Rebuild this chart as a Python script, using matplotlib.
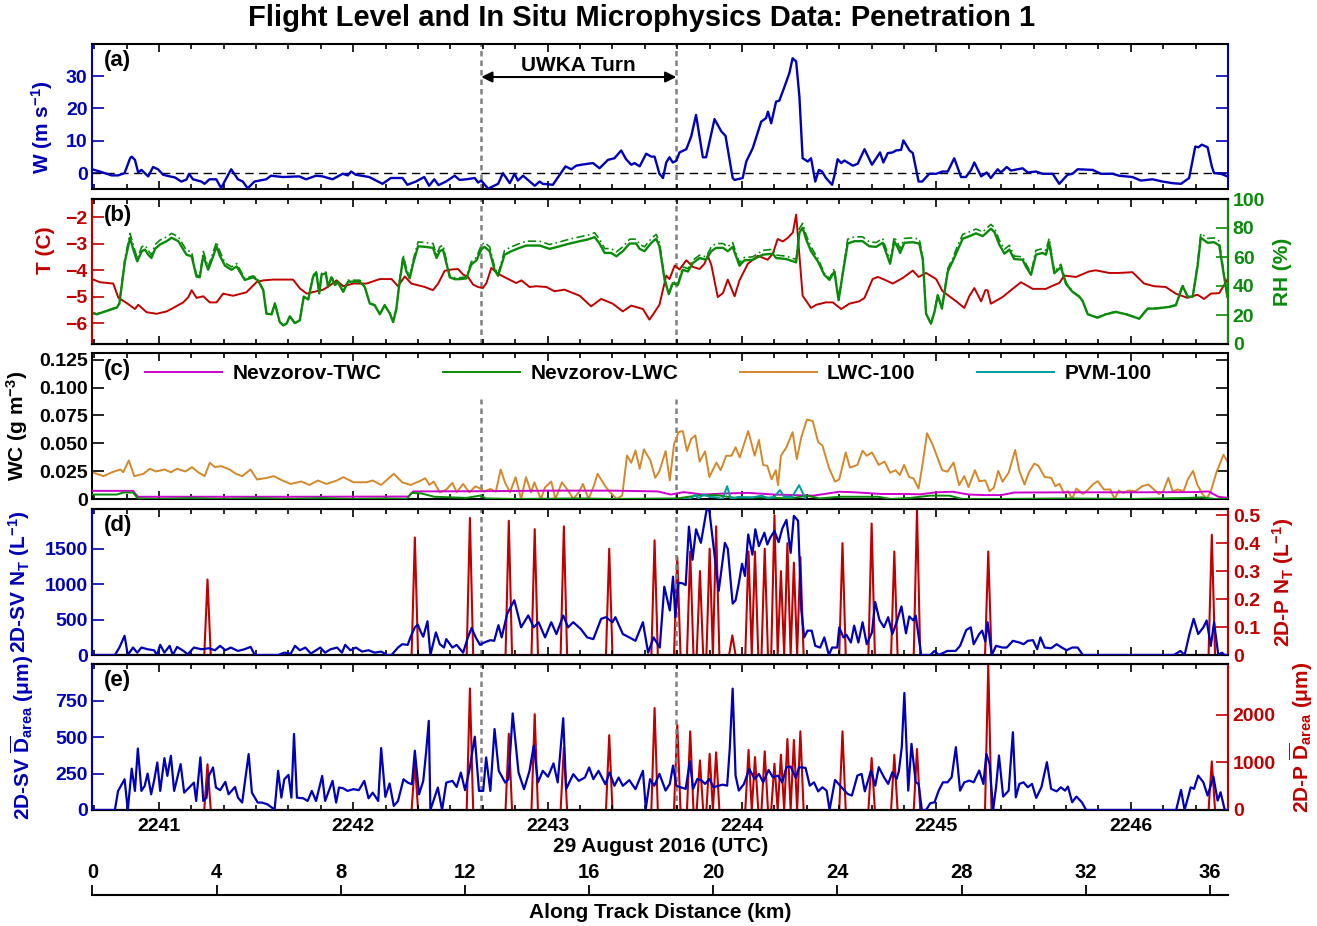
import numpy as np
import matplotlib
matplotlib.use('Agg')
import matplotlib.pyplot as plt
from matplotlib.ticker import MultipleLocator, FuncFormatter

# =============================================================================
# DATA (time in seconds after 22:40:00 UTC)
# =============================================================================

W_T = [39.4, 41.8, 45.4, 47.4, 49.4, 51.1, 51.6, 52.6, 53.6, 54.6,
       56.7, 58.2, 59.7, 61.3, 63.3, 64.9, 66.9, 68.5, 69.3, 70.5,
       73.1, 74.1, 75.6, 77.7, 79.2, 82.3, 84.4, 85.9, 87.4, 89.5,
       93.1, 94.6, 98.2, 103.3, 105.4, 108.5, 110.5, 113.6, 116.7, 118.3,
       119.3, 120.8, 124.9, 129.0, 131.6, 135.2, 136.7, 139.3, 141.9, 143.4,
       145.0, 146.3, 148.6, 151.3, 152.8, 154.9, 157.5, 158.5, 159.5, 161.6,
       164.7, 166.2, 168.3, 169.8, 170.8, 172.4, 176.0, 177.5, 178.5, 181.6,
       185.5, 187.3, 188.8, 190.4, 192.4, 194.0, 196.0, 198.6, 200.6, 202.7,
       204.2, 205.8, 206.8, 208.4, 210.4, 212.0, 213.0, 214.5, 215.6, 216.6,
       217.6, 218.6, 219.7, 220.7, 222.8, 224.3, 225.8, 227.9, 228.9, 231.5,
       233.6, 234.9, 237.1, 237.7, 240.2, 241.3, 243.3, 245.9, 247.4, 248.0,
       249.0, 250.5, 251.5, 253.1, 254.6, 255.6, 256.7, 257.7, 258.7, 260.3,
       261.3, 262.6, 263.7, 264.7, 265.9, 267.8, 268.5, 269.5, 270.6, 271.6,
       274.2, 275.7, 277.8, 280.1, 282.6, 283.6, 285.0, 286.5, 287.5, 289.1,
       289.8, 291.7, 292.7, 294.5, 295.6, 297.8, 299.9, 301.9, 303.5, 305.5,
       307.6, 309.1, 310.7, 311.7, 313.8, 315.5, 316.8, 318.9, 319.9, 321.7,
       323.0, 326.6, 328.2, 330.7, 332.8, 335.9, 337.9, 340.5, 342.0, 343.6,
       348.2, 350.8, 354.4, 356.4, 360.5, 363.1, 366.7, 369.8, 372.9, 375.5,
       378.0, 379.9, 380.9, 381.9, 383.7, 385.0, 385.7, 387.8, 389.8]
W_V = [1.2, 0.5, -0.7, -0.7, 0.0, 4.6, 5.1, 4.1, 0.2, 1.0,
       -1.0, 1.9, 1.2, -0.5, -1.0, -1.3, -2.6, -2.0, -0.2, -1.9,
       -2.6, -3.3, -1.9, -1.9, -4.6, 1.2, -1.9, -2.6, -4.7, -2.6,
       -1.9, -0.8, -1.2, -1.0, -1.9, -0.8, -1.0, -1.9, -0.2, -0.7,
       0.5, -0.5, -1.2, -3.3, -1.5, -1.5, -3.6, -2.6, -1.2, -3.9,
       -1.9, -3.7, -2.6, -0.8, -2.1, -1.9, -1.5, -2.9, -2.3, -4.8,
       -3.3, 0.0, -3.1, -0.2, -2.3, -0.8, -3.9, -2.6, -3.3, -3.6,
       2.1, 1.2, 2.3, 2.6, 2.9, 3.1, 1.5, 4.1, 4.6, 7.0,
       4.3, 2.6, 3.1, 2.1, 6.0, 5.1, 5.1, -0.2, -1.5, 3.3,
       4.9, 3.3, 3.8, 6.4, 7.4, 11.3, 18.0, 4.9, 4.9, 16.7,
       12.9, 11.5, -1.5, -2.1, -1.5, 3.6, 7.7, 15.9, 17.0, 19.0,
       15.4, 22.1, 22.4, 26.7, 30.9, 35.5, 34.5, 23.7, 4.6, 3.6,
       4.6, -2.6, 1.0, 0.5, -1.5, -3.6, -0.8, 4.3, 3.1, 3.9,
       2.3, 2.9, 7.4, 2.6, 6.4, 3.3, 6.2, 6.4, 7.0, 7.2,
       10.1, 7.0, 6.2, -2.6, -2.6, -0.2, -0.2, 0.5, 0.5, 4.6,
       -1.2, -1.2, 1.0, 3.3, -1.0, 0.2, -1.5, 1.2, 0.2, 1.9,
       0.8, 1.5, 0.2, 0.5, -0.2, -0.2, -3.3, -0.5, -0.2, 1.2,
       1.0, -0.2, -0.2, -0.8, -1.2, -2.3, -1.9, -2.6, -3.1, -3.3,
       -1.5, 8.2, 8.0, 8.8, 8.0, 2.1, 0.0, -0.2, -1.0]

T_T = [39.4, 41.8, 45.9, 47.5, 50.0, 52.6, 53.6, 56.2, 59.3, 62.4,
       64.4, 67.5, 69.1, 70.1, 71.6, 73.7, 75.7, 77.8, 79.8, 82.9,
       87.0, 90.1, 92.2, 95.3, 101.4, 103.5, 105.6, 108.6, 110.7, 112.7,
       114.8, 116.9, 120.0, 124.1, 128.2, 131.8, 133.8, 135.9, 137.9, 142.1,
       144.6, 146.2, 148.2, 150.3, 152.3, 153.9, 155.4, 157.0, 158.5, 160.0,
       161.1, 162.6, 164.7, 167.2, 170.3, 171.9, 174.4, 176.5, 179.6, 182.1,
       185.2, 189.9, 193.4, 196.5, 200.1, 203.2, 205.8, 209.4, 211.4, 212.5,
       214.5, 216.6, 217.6, 219.2, 220.7, 222.8, 224.8, 226.9, 228.4, 229.4,
       230.5, 232.5, 234.1, 235.6, 237.7, 239.2, 241.8, 244.9, 247.9, 249.5,
       251.0, 252.6, 254.1, 255.7, 256.7, 258.7, 261.3, 262.9, 265.9, 268.0,
       270.6, 273.1, 276.2, 277.8, 280.3, 281.9, 283.9, 286.5, 289.6, 292.7,
       294.5, 296.8, 299.9, 301.9, 306.1, 308.6, 310.2, 311.7, 313.8, 315.1,
       315.8, 316.8, 320.4, 323.5, 326.1, 329.7, 333.8, 335.9, 337.9, 339.5,
       343.1, 347.2, 349.2, 353.3, 356.4, 360.5, 364.1, 367.2, 370.8, 373.9,
       377.5, 380.6, 382.6, 384.7, 387.3, 389.8]
T_V = [-4.33, -4.45, -4.50, -5.04, -5.23, -5.46, -5.30, -5.58, -5.64, -5.55,
       -5.42, -5.21, -5.01, -4.75, -5.04, -4.98, -5.21, -5.21, -4.88, -4.96,
       -4.83, -4.45, -4.38, -4.35, -4.35, -4.68, -4.88, -4.79, -4.73, -4.58,
       -4.38, -4.60, -4.50, -4.50, -4.33, -4.33, -4.60, -4.23, -4.50, -4.63,
       -4.75, -4.50, -4.02, -3.97, -3.95, -4.16, -4.25, -4.54, -4.63, -4.67,
       -4.48, -3.91, -4.13, -4.29, -4.48, -4.38, -4.63, -4.60, -4.63, -4.79,
       -4.73, -4.96, -5.36, -5.08, -5.26, -5.55, -5.33, -5.46, -5.86, -5.67,
       -5.30, -4.20, -4.33, -3.82, -3.97, -3.62, -3.87, -3.95, -3.75, -3.45,
       -3.79, -5.01, -4.86, -4.35, -4.98, -4.38, -3.75, -3.45, -3.60, -3.37,
       -2.82, -2.91, -2.78, -2.57, -1.90, -4.96, -5.42, -5.30, -5.21, -5.21,
       -5.46, -5.26, -5.17, -5.04, -4.33, -4.25, -4.35, -4.50, -4.29, -4.01,
       -4.25, -4.10, -4.33, -4.79, -5.17, -5.42, -4.96, -4.67, -5.17, -4.75,
       -4.75, -5.26, -5.01, -4.70, -4.45, -4.70, -4.70, -4.58, -4.48, -4.20,
       -4.25, -4.04, -4.00, -4.10, -4.10, -4.07, -4.50, -4.60, -4.63, -4.88,
       -5.04, -4.92, -5.08, -4.88, -4.86, -4.35]

RH_T = [39.4, 40.8, 43.9, 47.0, 47.8, 49.5, 51.1, 52.1, 53.3, 54.7,
        55.7, 56.7, 57.7, 58.8, 60.3, 62.4, 63.9, 66.0, 68.5, 70.1,
        71.6, 72.6, 73.7, 75.2, 76.8, 77.8, 78.8, 80.4, 82.4, 84.0,
        86.5, 89.1, 90.6, 92.2, 93.2, 94.8, 95.8, 97.3, 98.4, 99.4,
        100.4, 101.9, 103.5, 104.7, 106.1, 107.6, 108.6, 109.5, 110.2, 111.5,
        112.2, 113.3, 114.3, 115.3, 116.9, 118.4, 122.0, 123.5, 125.1, 126.6,
        128.2, 129.7, 131.3, 132.3, 133.3, 134.3, 135.4, 136.4, 137.4, 138.5,
        140.0, 142.1, 144.6, 145.7, 146.7, 147.7, 149.8, 151.3, 152.8, 154.9,
        156.4, 158.0, 159.5, 160.5, 162.1, 163.6, 164.7, 166.7, 168.8, 171.3,
        173.4, 177.5, 180.6, 183.7, 186.8, 189.9, 192.4, 194.5, 196.0, 197.6,
        199.6, 201.2, 203.2, 205.3, 207.3, 208.4, 209.9, 212.0, 213.5, 214.5,
        216.1, 217.4, 218.6, 220.2, 221.7, 223.3, 224.8, 226.9, 228.9, 230.5,
        232.0, 234.1, 235.6, 237.1, 239.2, 240.7, 243.3, 246.4, 249.5, 250.5,
        253.6, 256.7, 257.7, 258.7, 259.8, 261.3, 263.4, 265.4, 267.0, 268.5,
        269.8, 271.1, 272.6, 274.7, 277.2, 279.3, 281.4, 283.4, 285.7, 287.0,
        288.1, 288.8, 290.1, 292.7, 294.7, 295.8, 296.8, 298.3, 299.4, 300.4,
        301.7, 303.5, 305.0, 306.6, 308.1, 310.2, 312.2, 314.3, 316.8, 317.9,
        319.4, 321.0, 322.5, 324.0, 326.6, 327.6, 329.2, 330.7, 332.8, 333.8,
        334.8, 336.4, 338.4, 340.0, 342.0, 344.1, 345.1, 346.7, 349.7, 352.3,
        355.4, 358.5, 362.6, 365.2, 367.7, 371.9, 373.9, 376.0, 377.5, 379.1,
        380.6, 381.6, 383.7, 385.7, 387.3, 388.3, 389.8]
RH_V = [21.4, 20.5, 22.8, 25.1, 27.9, 57.0, 73.3, 65.1, 57.0, 64.0,
        65.1, 61.6, 59.3, 65.6, 68.6, 70.9, 73.3, 70.9, 61.6, 60.5,
        46.5, 46.0, 60.9, 51.2, 60.9, 67.4, 60.9, 54.0, 51.2, 53.5,
        44.2, 46.0, 43.7, 37.2, 20.9, 20.5, 27.9, 15.1, 12.8, 14.0,
        19.1, 14.4, 16.3, 32.6, 30.7, 46.5, 48.8, 34.9, 47.7, 48.8,
        39.5, 46.0, 40.7, 42.3, 36.0, 43.0, 43.0, 39.5, 27.9, 26.7,
        20.5, 26.7, 20.9, 15.1, 24.4, 43.0, 59.3, 50.0, 45.3, 55.8,
        67.4, 67.0, 66.3, 59.3, 64.0, 65.1, 46.0, 44.7, 44.7, 45.3,
        54.7, 57.7, 65.1, 67.0, 64.0, 51.2, 47.0, 61.6, 64.0, 66.3,
        67.9, 67.9, 65.6, 67.4, 69.3, 70.9, 72.1, 73.7, 69.3, 62.8,
        62.8, 60.5, 64.0, 69.3, 69.3, 65.6, 64.0, 69.8, 72.6, 67.4,
        44.2, 34.4, 41.9, 40.7, 51.2, 50.0, 55.8, 59.3, 58.1, 64.0,
        66.3, 66.3, 64.0, 67.0, 54.0, 57.7, 58.1, 61.6, 62.3, 59.3,
        58.6, 56.3, 76.7, 80.2, 72.1, 64.0, 57.0, 47.7, 44.2, 50.0,
        30.2, 48.8, 69.3, 70.9, 70.9, 67.4, 67.0, 69.8, 55.3, 70.9,
        66.3, 62.8, 69.8, 70.2, 69.3, 58.1, 20.9, 14.0, 22.1, 33.7,
        24.4, 50.0, 57.0, 65.1, 72.6, 74.4, 76.3, 74.4, 79.5, 77.2,
        68.6, 62.3, 65.1, 58.6, 58.1, 53.5, 47.7, 61.6, 62.8, 61.6,
        69.8, 48.8, 53.0, 41.4, 36.0, 32.6, 29.8, 20.5, 18.1, 20.5,
        22.1, 20.5, 17.4, 24.4, 24.4, 25.6, 26.7, 40.0, 32.6, 32.6,
        53.5, 73.3, 69.8, 70.2, 67.9, 53.5, 32.6]
# dash-dot RH trace (slightly above the solid one in the moist parts)
RHI_V = [21.7, 20.8, 23.1, 25.4, 28.2, 59.0, 76.3, 68.1, 59.0, 67.0,
         68.1, 64.6, 61.3, 68.6, 71.6, 73.9, 76.3, 73.9, 64.6, 63.5,
         47.5, 47.0, 63.9, 53.2, 63.9, 70.4, 63.9, 56.0, 53.2, 55.5,
         45.2, 47.0, 44.7, 37.5, 21.2, 20.8, 28.2, 15.4, 13.1, 14.3,
         19.4, 14.7, 16.6, 32.9, 31.0, 47.5, 49.8, 35.2, 48.7, 49.8,
         39.8, 47.0, 41.7, 43.3, 36.3, 44.0, 44.0, 39.8, 28.2, 27.0,
         20.8, 27.0, 21.2, 15.4, 24.7, 44.0, 61.3, 52.0, 46.3, 57.8,
         70.4, 70.0, 69.3, 61.3, 67.0, 68.1, 47.0, 45.7, 45.7, 46.3,
         56.7, 59.7, 68.1, 70.0, 67.0, 53.2, 48.0, 64.6, 67.0, 69.3,
         70.9, 70.9, 68.6, 70.4, 72.3, 73.9, 75.1, 76.7, 72.3, 65.8,
         65.8, 63.5, 67.0, 72.3, 72.3, 68.6, 67.0, 72.8, 75.6, 70.4,
         45.2, 34.7, 42.9, 41.7, 53.2, 52.0, 57.8, 61.3, 60.1, 67.0,
         69.3, 69.3, 67.0, 70.0, 56.0, 59.7, 60.1, 64.6, 65.3, 61.3,
         60.6, 58.3, 79.7, 83.2, 75.1, 67.0, 59.0, 48.7, 45.2, 52.0,
         30.5, 49.8, 72.3, 73.9, 73.9, 70.4, 70.0, 72.8, 57.3, 73.9,
         69.3, 65.8, 72.8, 73.2, 72.3, 60.1, 21.2, 14.3, 22.4, 34.0,
         24.7, 52.0, 59.0, 68.1, 75.6, 77.4, 79.3, 77.4, 82.5, 80.2,
         71.6, 65.3, 68.1, 60.6, 60.1, 55.5, 48.7, 64.6, 65.8, 64.6,
         72.8, 49.8, 55.0, 42.4, 36.3, 32.9, 30.1, 20.8, 18.4, 20.8,
         22.4, 20.8, 17.7, 24.7, 24.7, 25.9, 27.0, 41.0, 32.9, 32.9,
         55.5, 76.3, 72.8, 73.2, 70.9, 55.5, 32.9]

LWC100_T = [39.4, 42.9, 45.5, 48.1, 49.0, 50.7, 52.4, 55.2, 57.2, 59.1,
            61.7, 63.7, 65.6, 68.2, 70.2, 72.1, 74.1, 75.7, 77.3, 79.2,
            81.8, 83.8, 85.7, 88.3, 90.3, 92.9, 95.5, 98.1, 100.7, 103.9,
            106.5, 109.1, 111.7, 114.9, 116.9, 120.1, 124.0, 126.0, 128.6, 132.5,
            135.1, 137.7, 140.9, 142.2, 143.5, 144.8, 146.7, 148.7, 150.6, 151.9,
            153.9, 155.8, 157.7, 159.0, 160.3, 162.3, 164.0, 165.5, 166.8, 168.4,
            170.1, 171.8, 173.3, 174.9, 175.9, 177.9, 179.2, 181.1, 182.4, 184.4,
            186.3, 187.9, 189.6, 190.9, 192.6, 194.1, 195.4, 198.0, 199.3, 201.3,
            203.0, 204.5, 205.8, 207.1, 208.4, 209.7, 211.7, 213.2, 214.5, 216.4,
            217.7, 219.0, 220.4, 221.7, 223.0, 224.3, 225.6, 226.9, 228.6, 229.9,
            232.1, 233.4, 235.1, 236.7, 238.0, 239.3, 241.9, 243.9, 245.2, 246.5,
            247.8, 249.1, 250.4, 251.1, 252.0, 253.7, 255.6, 256.9, 258.3, 260.0,
            261.8, 263.5, 264.8, 266.8, 268.7, 270.0, 272.0, 273.3, 275.6, 277.2,
            278.5, 280.1, 282.2, 284.0, 285.7, 287.4, 288.7, 290.0, 291.6, 292.9,
            294.5, 295.8, 297.1, 298.8, 300.1, 301.8, 303.4, 305.3, 307.0, 308.6,
            309.9, 311.9, 313.2, 315.1, 316.4, 317.7, 319.1, 320.4, 322.3, 324.3,
            325.6, 327.2, 328.5, 330.2, 331.5, 333.4, 335.4, 336.7, 338.0, 339.3,
            340.6, 341.9, 343.2, 345.2, 346.5, 348.5, 349.8, 351.7, 353.7, 355.0,
            356.3, 357.6, 359.3, 361.5, 363.5, 365.4, 366.8, 368.7, 370.0, 371.6,
            372.9, 374.6, 376.3, 377.6, 379.2, 380.5, 382.1, 383.4, 384.7, 386.4,
            388.6, 390.0]
LWC100_V = [0.0240, 0.0205, 0.0240, 0.0265, 0.0240, 0.0346, 0.0205, 0.0226, 0.0271, 0.0247,
            0.0265, 0.0240, 0.0271, 0.0247, 0.0286, 0.0240, 0.0205, 0.0325, 0.0286, 0.0295,
            0.0265, 0.0226, 0.0205, 0.0265, 0.0175, 0.0187, 0.0205, 0.0166, 0.0135, 0.0157,
            0.0126, 0.0166, 0.0135, 0.0166, 0.0196, 0.0150, 0.0150, 0.0166, 0.0126, 0.0226,
            0.0150, 0.0126, 0.0166, 0.0187, 0.0126, 0.0157, 0.0060, 0.0084, 0.0145, 0.0060,
            0.0135, 0.0060, 0.0114, 0.0096, 0.0066, 0.0090, 0.0066, 0.0265, 0.0150, 0.0060,
            0.0196, 0.0000, 0.0196, 0.0060, 0.0150, 0.0000, 0.0105, 0.0157, 0.0000, 0.0150,
            0.0075, 0.0000, 0.0060, 0.0135, 0.0000, 0.0105, 0.0226, 0.0105, 0.0060, 0.0000,
            0.0030, 0.0390, 0.0325, 0.0436, 0.0271, 0.0445, 0.0346, 0.0190, 0.0250, 0.0430,
            0.0167, 0.0490, 0.0600, 0.0610, 0.0430, 0.0540, 0.0570, 0.0336, 0.0427, 0.0197,
            0.0327, 0.0258, 0.0388, 0.0388, 0.0464, 0.0373, 0.0610, 0.0388, 0.0530, 0.0306,
            0.0297, 0.0176, 0.0258, 0.0124, 0.0388, 0.0464, 0.0600, 0.0358, 0.0555, 0.0712,
            0.0700, 0.0510, 0.0480, 0.0282, 0.0155, 0.0176, 0.0418, 0.0282, 0.0306, 0.0433,
            0.0388, 0.0418, 0.0306, 0.0336, 0.0236, 0.0258, 0.0215, 0.0306, 0.0197, 0.0185,
            0.0094, 0.0327, 0.0590, 0.0490, 0.0388, 0.0258, 0.0245, 0.0327, 0.0124, 0.0206,
            0.0106, 0.0258, 0.0160, 0.0167, 0.0070, 0.0100, 0.0252, 0.0155, 0.0236, 0.0440,
            0.0252, 0.0130, 0.0236, 0.0318, 0.0297, 0.0197, 0.0190, 0.0115, 0.0136, 0.0055,
            0.0070, 0.0000, 0.0094, 0.0045, 0.0076, 0.0136, 0.0160, 0.0085, 0.0085, 0.0000,
            0.0076, 0.0055, 0.0076, 0.0070, 0.0115, 0.0130, 0.0094, 0.0045, 0.0070, 0.0190,
            0.0070, 0.0085, 0.0070, 0.0176, 0.0252, 0.0130, 0.0045, 0.0000, 0.0070, 0.0236,
            0.0397, 0.0327]

TWC_T = [39.4, 52.0, 53.5, 100.0, 137.0, 138.5, 160.0, 180.0, 200.0, 214.0,
         218.0, 222.0, 228.0, 235.0, 242.0, 250.0, 262.0, 270.0, 275.0, 283.0,
         290.0, 295.0, 300.0, 305.0, 310.0, 315.0, 320.0, 324.0, 340.0, 360.0,
         380.0, 384.0, 387.0, 390.0]
TWC_V = [0.0073, 0.0073, 0.0020, 0.0020, 0.0022, 0.0068, 0.0070, 0.0075, 0.0075, 0.0068,
         0.0040, 0.0062, 0.0040, 0.0050, 0.0055, 0.0040, 0.0030, 0.0065, 0.0060, 0.0045,
         0.0045, 0.0042, 0.0060, 0.0065, 0.0040, 0.0035, 0.0035, 0.0058, 0.0060, 0.0060,
         0.0062, 0.0068, 0.0020, 0.0010]

NLWC_T = [39.4, 47.0, 49.0, 52.0, 53.5, 60.0, 70.0, 80.0, 90.0, 100.0,
          110.0, 120.0, 130.0, 136.5, 138.0, 141.0, 145.0, 150.0, 155.0, 159.0,
          161.0, 170.0, 190.0, 200.0, 220.0, 226.0, 232.0, 238.0, 245.0, 255.0,
          260.0, 264.0, 270.0, 282.0, 286.0, 292.0, 298.0, 304.0, 308.0, 320.0,
          340.0, 360.0, 378.0, 382.0, 386.0, 390.0]
NLWC_V = [0.0040, 0.0040, 0.0058, 0.0058, 0.0005, 0.0000, 0.0008, 0.0000, 0.0008, 0.0000,
          0.0008, 0.0000, 0.0005, 0.0000, 0.0055, 0.0050, 0.0020, 0.0015, 0.0010, 0.0030,
          0.0005, 0.0000, 0.0005, 0.0000, 0.0005, 0.0030, 0.0035, 0.0010, 0.0015, 0.0005,
          0.0030, 0.0005, 0.0020, 0.0020, 0.0000, 0.0010, 0.0030, 0.0030, 0.0000, 0.0000,
          0.0005, 0.0000, 0.0010, 0.0015, 0.0000, 0.0000]

PVM_T = [222.0, 224.0, 225.6, 226.5, 228.0, 230.0, 232.0, 234.0, 235.4, 236.5,
         239.0, 243.0, 246.0, 248.0, 250.0, 251.7, 253.0, 255.5, 257.6, 259.6]
PVM_V = [0.0, 0.0, 0.004, 0.0, 0.004, 0.002, 0.0015, 0.0, 0.0115, 0.0,
         0.002, 0.0012, 0.003, 0.0008, 0.002, 0.008, 0.002, 0.002, 0.0124, 0.0]

NT_SV_T = [39.4, 46.4, 47.8, 49.4, 50.4, 52.0, 53.3, 54.6, 56.5, 58.5,
           59.4, 60.4, 61.7, 63.3, 64.3, 65.6, 67.6, 68.9, 70.8, 73.1,
           75.4, 77.3, 78.9, 80.5, 82.2, 84.4, 86.4, 88.3, 89.6, 96.8,
           98.7, 100.7, 102.0, 103.5, 105.2, 106.9, 108.5, 109.8, 111.3, 113.0,
           115.0, 116.5, 117.5, 119.1, 120.8, 122.7, 124.7, 126.6, 128.6, 130.5,
           131.8, 133.8, 135.1, 136.8, 137.7, 139.0, 139.9, 140.9, 141.6, 142.9,
           143.8, 145.5, 146.7, 148.0, 148.7, 150.6, 151.9, 153.9, 155.2, 156.5,
           157.8, 159.1, 160.4, 162.3, 163.5, 164.8, 165.8, 167.5, 169.7, 171.8,
           174.0, 175.7, 177.2, 179.2, 181.1, 182.7, 184.8, 186.3, 187.9, 190.2,
           192.2, 194.1, 196.5, 198.0, 200.0, 200.9, 203.2, 205.2, 207.1, 209.4,
           211.0, 212.7, 214.6, 216.0, 217.7, 218.7, 219.4, 220.4, 221.7, 222.6,
           223.6, 224.7, 225.8, 227.3, 229.1, 229.9, 231.5, 232.8, 234.7, 235.6,
           237.1, 238.0, 239.0, 240.0, 240.9, 241.9, 243.2, 244.1, 245.2, 246.9,
           247.8, 248.7, 250.0, 251.3, 252.4, 253.7, 255.0, 256.0, 257.3, 258.3,
           259.2, 260.2, 261.5, 262.6, 264.1, 265.4, 266.8, 267.8, 269.4, 270.0,
           271.3, 272.2, 273.6, 274.6, 275.9, 277.2, 278.5, 280.1, 281.1, 282.4,
           283.8, 285.1, 286.4, 287.7, 289.2, 290.6, 291.6, 292.9, 293.6, 295.3,
           298.1, 299.4, 300.7, 303.4, 305.9, 307.3, 309.2, 310.6, 311.5, 313.2,
           314.1, 315.1, 315.8, 317.1, 318.4, 320.4, 321.7, 323.6, 325.6, 326.9,
           328.2, 329.8, 331.1, 332.1, 333.4, 335.4, 337.1, 338.7, 340.2, 341.9,
           343.6, 345.2, 373.3, 375.3, 376.6, 378.1, 379.4, 380.8, 382.4, 383.4,
           384.7, 385.7, 387.0, 388.1, 389.0, 390.0]
NT_SV_V = [0, 0, 105, 271, 0, 105, 33, 105, 81, 67,
           0, 143, 33, 129, 0, 114, 57, 10, 105, 81,
           95, 67, 129, 67, 105, 57, 81, 114, 0, 0,
           33, 19, 129, 67, 105, 19, 67, 105, 33, 81,
           105, 33, 143, 67, 105, 48, 67, 33, 48, 0,
           0, 105, 152, 143, 257, 390, 428, 319, 257, 476,
           0, 319, 152, 105, 224, 105, 143, 33, 224, 381,
           248, 143, 176, 209, 200, 420, 248, 580, 771, 390,
           557, 390, 462, 248, 462, 295, 557, 390, 462, 367,
           248, 224, 510, 533, 462, 533, 295, 248, 200, 462,
           33, 248, 105, 962, 628, 1104, 533, 1019, 1009, 985,
           1809, 1342, 1771, 1580, 2056, 2033, 1414, 904, 1580, 1495,
           724, 771, 1009, 1285, 1114, 1699, 1414, 1771, 1533, 1723,
           1557, 1652, 1747, 1590, 1780, 1904, 1438, 1961, 1890, 628,
           248, 343, 343, 129, 105, 248, 0, 105, 105, 390,
           248, 286, 176, 414, 176, 462, 152, 319, 747, 495,
           390, 533, 295, 462, 685, 305, 543, 486, 557, 0,
           0, 57, 0, 57, 57, 129, 352, 390, 152, 295,
           343, 190, 462, 0, 129, 105, 105, 200, 176, 152,
           200, 209, 81, 248, 105, 95, 152, 105, 67, 105,
           105, 0, 0, 57, 0, 295, 510, 295, 390, 486,
           129, 462, 0, 33, 0, 0]

D_SV_T = [39.4, 46.4, 47.4, 49.4, 50.4, 51.6, 52.6, 53.5, 54.6, 55.6,
          56.5, 57.6, 58.5, 59.5, 60.4, 61.7, 62.6, 63.7, 64.7, 66.7,
          67.8, 69.5, 70.8, 71.5, 72.8, 73.7, 74.7, 75.4, 76.7, 77.6,
          78.9, 80.5, 81.5, 83.5, 84.4, 85.7, 87.7, 88.7, 90.5, 91.8,
          93.5, 95.2, 95.7, 96.8, 97.8, 98.7, 100.0, 100.9, 101.7, 102.6,
          104.6, 105.9, 107.2, 108.5, 110.4, 111.3, 113.6, 114.7, 115.6, 116.9,
          118.2, 120.1, 121.7, 123.4, 124.7, 126.0, 127.7, 128.6, 129.9, 131.2,
          132.5, 133.8, 135.5, 136.8, 138.1, 139.0, 140.3, 141.6, 142.5, 143.3,
          143.8, 146.1, 147.4, 148.7, 150.6, 151.9, 153.2, 154.5, 155.8, 157.5,
          158.8, 160.1, 161.0, 162.3, 163.6, 164.9, 166.9, 167.9, 169.2, 171.0,
          172.7, 174.4, 175.7, 177.0, 178.5, 180.1, 181.8, 183.1, 184.8, 185.7,
          187.0, 187.9, 189.6, 191.5, 192.8, 194.1, 195.7, 197.8, 199.1, 200.6,
          201.9, 203.2, 205.2, 207.1, 209.4, 210.3, 211.6, 212.9, 214.5, 216.4,
          217.7, 218.7, 219.7, 221.0, 222.6, 223.9, 224.9, 226.2, 227.5, 228.6,
          229.9, 231.2, 232.8, 234.1, 235.4, 236.2, 237.1, 238.0, 239.0, 240.6,
          242.2, 243.9, 245.2, 246.5, 248.2, 249.5, 251.1, 252.4, 253.7, 255.0,
          256.6, 257.6, 259.6, 260.9, 262.2, 263.5, 264.8, 266.1, 267.0, 268.7,
          270.7, 272.6, 273.9, 275.6, 276.9, 277.9, 279.8, 281.1, 282.2, 283.8,
          285.1, 286.4, 287.7, 288.4, 289.3, 290.1, 291.3, 292.3, 293.6, 294.5,
          295.5, 296.8, 298.1, 299.4, 300.7, 302.0, 303.4, 304.7, 306.0, 307.3,
          308.6, 310.2, 311.5, 313.2, 314.5, 315.4, 316.4, 317.5, 318.4, 319.3,
          320.6, 322.3, 323.6, 324.5, 325.6, 326.9, 328.2, 329.5, 330.8, 332.4,
          334.1, 335.4, 337.1, 338.4, 339.7, 340.6, 341.9, 343.2, 344.9, 346.2,
          374.0, 375.5, 376.6, 378.5, 379.5, 380.8, 382.4, 383.7, 385.5, 386.8,
          387.7, 389.0, 390.0]
D_SV_V = [0, 0, 131, 211, 0, 284, 131, 422, 131, 165,
          250, 108, 200, 326, 131, 356, 234, 372, 131, 315,
          119, 158, 188, 62, 361, 62, 85, 234, 292, 154,
          136, 193, 108, 158, 85, 51, 384, 119, 51, 51,
          39, 11, 0, 269, 85, 211, 241, 85, 522, 85,
          80, 62, 131, 62, 234, 62, 200, 51, 154, 149,
          131, 143, 136, 200, 80, 119, 62, 425, 90, 182,
          28, 62, 211, 188, 177, 407, 108, 200, 402, 612,
          0, 154, 0, 188, 200, 158, 257, 136, 269, 503,
          131, 131, 361, 131, 556, 269, 188, 211, 663, 258,
          143, 269, 442, 189, 269, 228, 320, 189, 630, 143,
          205, 246, 200, 223, 292, 212, 269, 177, 258, 166,
          223, 166, 205, 143, 269, 11, 212, 166, 248, 133,
          179, 305, 167, 156, 145, 335, 145, 213, 202, 179,
          213, 156, 167, 174, 167, 420, 833, 236, 133, 179,
          282, 213, 248, 190, 275, 225, 236, 190, 294, 298,
          220, 294, 289, 167, 190, 128, 156, 133, 0, 206,
          156, 110, 99, 236, 248, 128, 271, 167, 294, 225,
          179, 259, 213, 266, 431, 803, 133, 454, 190, 179,
          0, 0, 46, 53, 133, 190, 190, 225, 431, 133,
          190, 202, 190, 271, 179, 385, 317, 0, 156, 374,
          92, 133, 534, 87, 179, 190, 156, 179, 83, 156,
          328, 145, 128, 156, 133, 161, 53, 92, 53, 0,
          0, 138, 0, 156, 145, 236, 190, 99, 229, 64,
          122, 0, 0]

# 2D-P probe: 1 Hz record, non-zero only in these seconds
P_SPIKE_T = [75, 139, 156, 168, 176, 185, 199, 213, 220, 224,
             227, 230, 232, 237, 242, 244, 247, 250, 252, 254,
             256, 258, 271, 280, 287, 294, 316, 385]
NT_P_PEAK = [0.27, 0.42, 0.49, 0.48, 0.45, 0.46, 0.38, 0.41, 0.35, 0.37,
             0.30, 0.38, 0.46, 0.07, 0.37, 0.37, 0.38, 0.50, 0.30, 0.40,
             0.33, 0.35, 0.40, 0.47, 0.37, 0.52, 0.37, 0.43]
D_P_PEAK = [960, 990, 2550, 1600, 2010, 1310, 1570, 2140, 1790, 1650,
            1040, 1180, 1210, 0, 1260, 1110, 1230, 970, 1160, 1490,
            1470, 1650, 1650, 1090, 1160, 1280, 3070, 1020]

TURN_START, TURN_END = 159.5, 219.7
T0, T1 = 39.5, 390.0
DIST_MAX = 36.58

# =============================================================================
# STYLE
# =============================================================================

BLUE = '#0000b8'
RED = '#c00000'
GREEN = '#0a8a0a'
ORANGE = '#d4882c'
MAGENTA = '#cc00cc'
TEAL = '#009c9c'
GRAY = '#808080'

plt.rcParams.update({
    'font.family': 'Liberation Sans',
    'font.weight': 'bold',
    'axes.labelweight': 'bold',
    'mathtext.fontset': 'custom',
    'mathtext.rm': 'Liberation Sans:bold',
    'mathtext.bf': 'Liberation Sans:bold',
    'mathtext.it': 'Liberation Sans:bold:italic',
    'mathtext.sf': 'Liberation Sans:bold',
})

FIG_W, FIG_H = 1317, 926
X_LEFT, X_RIGHT = 92.5, 1228
TICK_FS = 14
LABEL_FS = 15

fig = plt.figure(figsize=(FIG_W / 100, FIG_H / 100), dpi=100)


def panel(top, bottom):
    """Axes placed by pixel rows of the original figure."""
    return fig.add_axes([X_LEFT / FIG_W, 1 - bottom / FIG_H,
                         (X_RIGHT - X_LEFT) / FIG_W, (bottom - top) / FIG_H])


def style_time(ax, labels=False):
    ax.set_xlim(T0, T1)
    ax.xaxis.set_major_locator(MultipleLocator(60))
    ax.xaxis.set_minor_locator(MultipleLocator(10))
    ax.tick_params(axis='x', which='both', direction='in', top=True, bottom=True,
                   width=1.2, labelsize=TICK_FS)
    ax.tick_params(axis='x', which='major', length=5.5)
    ax.tick_params(axis='x', which='minor', length=3.5)
    if labels:
        ax.xaxis.set_major_formatter(FuncFormatter(lambda x, p: f'{2240 + int(round(x / 60))}'))
        ax.tick_params(axis='x', which='major', pad=6)
    else:
        ax.tick_params(axis='x', labelbottom=False)
    for sp in ax.spines.values():
        sp.set_linewidth(1.5)


def style_y(ax, color, right=False):
    ax.tick_params(axis='y', direction='in', length=8.5, width=1.2,
                   colors=color, labelsize=TICK_FS)
    if right:
        ax.spines['right'].set_color(color)
    else:
        ax.spines['left'].set_color(color)


def spikes(times, peaks):
    t, v = [T0], [0.0]
    for tc, p in zip(times, peaks):
        t += [tc - 1, tc, tc + 1]
        v += [0.0, p, 0.0]
    t.append(T1)
    v.append(0.0)
    return np.array(t), np.array(v)


def turn_lines(ax, ymax=None):
    for tt in (TURN_START, TURN_END):
        if ymax is None:
            ax.axvline(tt, color=GRAY, lw=1.8, ls=(0, (2.2, 1.6)), zorder=1)
        else:
            ax.vlines(tt, 0, ymax, color=GRAY, lw=1.8, ls=(0, (2.2, 1.6)), zorder=1)


def panel_tag(ax, tag):
    ax.text(0.010, 0.885, tag, transform=ax.transAxes, fontsize=16,
            ha='left', va='center', color='black')


# =============================================================================
# (a) vertical velocity
# =============================================================================
ax_a = panel(44, 189)
style_time(ax_a)
ax_a.plot(W_T, W_V, color=BLUE, lw=1.7, zorder=3)
ax_a.axhline(0, color='black', lw=1.0, ls=(0, (6, 4)), zorder=2)
turn_lines(ax_a)
ax_a.set_ylim(-4.9, 39.9)
ax_a.set_yticks([0, 10, 20, 30])
style_y(ax_a, BLUE)
ax_a.tick_params(axis='y', right=True)
ax_a.spines['right'].set_color(BLUE)
ax_a.set_ylabel('W (m s$^{\\mathrm{-1}}$)', color=BLUE, fontsize=LABEL_FS)
ax_a.yaxis.set_label_coords(-0.033, 0.43)
panel_tag(ax_a, '(a)')
ax_a.annotate('', xy=(TURN_START, 29.7), xytext=(TURN_END, 29.7),
              arrowprops=dict(arrowstyle='<|-|>', color='black', lw=1.5,
                              mutation_scale=16, shrinkA=0, shrinkB=0))
ax_a.text((TURN_START + TURN_END) / 2, 33.2, 'UWKA Turn', ha='center', va='center',
          fontsize=15)

# =============================================================================
# (b) temperature and RH
# =============================================================================
ax_b = panel(199, 344)
style_time(ax_b)
ax_b.plot(T_T, T_V, color=RED, lw=1.4, zorder=3)
turn_lines(ax_b)
ax_b.set_ylim(-6.78, -1.31)
ax_b.set_yticks([-6, -5, -4, -3, -2])
style_y(ax_b, RED)
ax_b.set_ylabel('T (C)', color=RED, fontsize=LABEL_FS)
ax_b.yaxis.set_label_coords(-0.033, 0.65)
panel_tag(ax_b, '(b)')

ax_b2 = ax_b.twinx()
ax_b2.plot(RH_T, RHI_V, color=GREEN, lw=1.2, ls=(0, (5, 2, 1, 2)))
ax_b2.plot(RH_T, RH_V, color=GREEN, lw=1.7)
ax_b2.set_ylim(0, 100)
ax_b2.set_yticks([0, 20, 40, 60, 80, 100])
style_y(ax_b2, GREEN, right=True)
ax_b2.spines['left'].set_color(RED)
for sp in ax_b2.spines.values():
    sp.set_linewidth(1.5)
ax_b2.set_ylabel('RH (%)', color=GREEN, fontsize=LABEL_FS)
ax_b2.yaxis.set_label_coords(1.040, 0.5)

# =============================================================================
# (c) water content
# =============================================================================
ax_c = panel(353, 499)
style_time(ax_c)
ax_c.plot(TWC_T, TWC_V, color=MAGENTA, lw=1.4, label='Nevzorov-TWC', zorder=3)
ax_c.plot(NLWC_T, NLWC_V, color=GREEN, lw=1.4, label='Nevzorov-LWC', zorder=3)
ax_c.plot(LWC100_T, LWC100_V, color=ORANGE, lw=1.4, label='LWC-100', zorder=2)
ax_c.plot(PVM_T, PVM_V, color=TEAL, lw=1.4, label='PVM-100', zorder=4)
turn_lines(ax_c, ymax=0.09)
ax_c.set_ylim(0, 0.131)
ax_c.set_yticks([0, 0.025, 0.05, 0.075, 0.1, 0.125])
ax_c.yaxis.set_major_formatter(FuncFormatter(lambda v, p: '0' if v == 0 else f'{v:.3f}'))
style_y(ax_c, 'black')
ax_c.tick_params(axis='y', right=True)
ax_c.set_ylabel('WC (g m$^{\\mathrm{-3}}$)', color='black', fontsize=LABEL_FS)
ax_c.yaxis.set_label_coords(-0.055, 0.5)
panel_tag(ax_c, '(c)')
ax_c.legend(loc='upper left', bbox_to_anchor=(0.046, 0.925), ncol=4, frameon=False,
            fontsize=15, handlelength=3.7, handletextpad=0.5, columnspacing=2.95,
            borderpad=0, borderaxespad=0)

# =============================================================================
# (d) number concentration
# =============================================================================
ax_d = panel(509, 655)
style_time(ax_d)
ax_d.plot(NT_SV_T, NT_SV_V, color=BLUE, lw=1.6, zorder=3)
turn_lines(ax_d)
ax_d.set_ylim(0, 2057)
ax_d.set_yticks([0, 500, 1000, 1500])
style_y(ax_d, BLUE)
ax_d.set_ylabel('2D-SV N$_{\\mathrm{T}}$ (L$^{\\mathrm{-1}}$)', color=BLUE, fontsize=LABEL_FS)
ax_d.yaxis.set_label_coords(-0.053, 0.5)
panel_tag(ax_d, '(d)')

ax_d2 = ax_d.twinx()
sp_t, sp_v = spikes(P_SPIKE_T, NT_P_PEAK)
ax_d2.plot(sp_t, sp_v, color=RED, lw=1.5)
ax_d2.set_ylim(0, 0.522)
ax_d2.set_yticks([0, 0.1, 0.2, 0.3, 0.4, 0.5])
ax_d2.yaxis.set_major_formatter(FuncFormatter(lambda v, p: '0' if v == 0 else f'{v:.1f}'))
style_y(ax_d2, RED, right=True)
ax_d2.spines['left'].set_color(BLUE)
for sp in ax_d2.spines.values():
    sp.set_linewidth(1.5)
ax_d2.set_ylabel('2D-P N$_{\\mathrm{T}}$ (L$^{\\mathrm{-1}}$)', color=RED, fontsize=LABEL_FS)
ax_d2.yaxis.set_label_coords(1.037, 0.5)
ax_d.spines['right'].set_color(RED)
ax_d.set_zorder(ax_d2.get_zorder() + 1)
ax_d.patch.set_visible(False)

# =============================================================================
# (e) mean area-equivalent diameter
# =============================================================================
ax_e = panel(664, 810)
style_time(ax_e, labels=True)
ax_e.plot(D_SV_T, D_SV_V, color=BLUE, lw=1.6, zorder=3)
turn_lines(ax_e)
ax_e.set_ylim(0, 1002)
ax_e.set_yticks([0, 250, 500, 750])
style_y(ax_e, BLUE)
ax_e.set_ylabel('2D-SV $\\overline{\\mathrm{D}}_{\\mathrm{area}}$ (μm)', color=BLUE,
                fontsize=LABEL_FS)
ax_e.yaxis.set_label_coords(-0.050, 0.5)
ax_e.set_xlabel('29 August 2016 (UTC)', fontsize=LABEL_FS, labelpad=1)
panel_tag(ax_e, '(e)')

ax_e2 = ax_e.twinx()
sp_t, sp_v = spikes(P_SPIKE_T, D_P_PEAK)
ax_e2.plot(sp_t, sp_v, color=RED, lw=1.5)
ax_e2.set_ylim(0, 3063)
ax_e2.set_yticks([0, 1000, 2000])
style_y(ax_e2, RED, right=True)
ax_e2.spines['left'].set_color(BLUE)
for sp in ax_e2.spines.values():
    sp.set_linewidth(1.5)
ax_e2.set_ylabel('2D-P $\\overline{\\mathrm{D}}_{\\mathrm{area}}$ (μm)', color=RED,
                 fontsize=LABEL_FS)
ax_e2.yaxis.set_label_coords(1.053, 0.5)
ax_e.spines['right'].set_color(RED)
ax_e.set_zorder(ax_e2.get_zorder() + 1)
ax_e.patch.set_visible(False)

ax_a.spines['left'].set_color(BLUE)

# =============================================================================
# along-track distance axis
# =============================================================================
ax_x = fig.add_axes([X_LEFT / FIG_W, 1 - 896 / FIG_H, (X_RIGHT - X_LEFT) / FIG_W, 1 / FIG_H])
ax_x.patch.set_visible(False)
for s in ('left', 'right', 'bottom'):
    ax_x.spines[s].set_visible(False)
ax_x.spines['top'].set_linewidth(1.5)
ax_x.set_xlim(0, DIST_MAX)
ax_x.set_yticks([])
ax_x.xaxis.tick_top()
ax_x.xaxis.set_major_locator(MultipleLocator(4))
ax_x.tick_params(axis='x', direction='out', length=7, width=1.3, pad=2, labelsize=14.5)
ax_x.xaxis.set_label_position('bottom')
ax_x.set_xlabel('Along Track Distance (km)', fontsize=LABEL_FS, labelpad=5)

fig.text(642 / FIG_W, 1 - 18 / FIG_H, 'Flight Level and In Situ Microphysics Data: Penetration 1',
         ha='center', va='center', fontsize=21, weight='bold')

fig.savefig('out.png', dpi=100)
